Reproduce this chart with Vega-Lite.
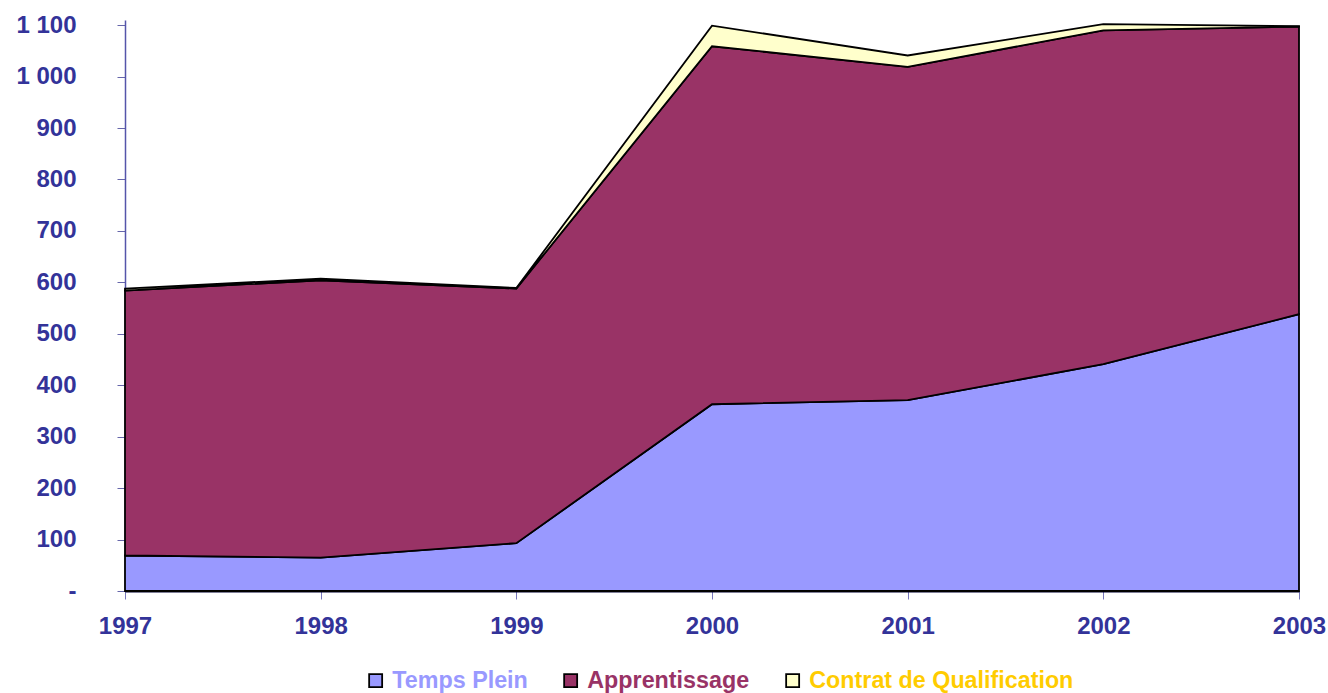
{
  "$schema": "https://vega.github.io/schema/vega-lite/v6.json",
  "autosize": {"type": "none"},
  "padding": {"left": 125, "top": 20, "right": 29, "bottom": 102},
  "width": 1174,
  "height": 571,
  "background": "white",
  "data": {
    "values": [
      {"annee": 1997, "type": "Temps Plein", "rang": 1, "effectif": 69},
      {"annee": 1998, "type": "Temps Plein", "rang": 1, "effectif": 65},
      {"annee": 1999, "type": "Temps Plein", "rang": 1, "effectif": 93},
      {"annee": 2000, "type": "Temps Plein", "rang": 1, "effectif": 363},
      {"annee": 2001, "type": "Temps Plein", "rang": 1, "effectif": 371},
      {"annee": 2002, "type": "Temps Plein", "rang": 1, "effectif": 441},
      {"annee": 2003, "type": "Temps Plein", "rang": 1, "effectif": 538},
      {"annee": 1997, "type": "Apprentissage", "rang": 2, "effectif": 515},
      {"annee": 1998, "type": "Apprentissage", "rang": 2, "effectif": 539},
      {"annee": 1999, "type": "Apprentissage", "rang": 2, "effectif": 495},
      {"annee": 2000, "type": "Apprentissage", "rang": 2, "effectif": 696},
      {"annee": 2001, "type": "Apprentissage", "rang": 2, "effectif": 648},
      {"annee": 2002, "type": "Apprentissage", "rang": 2, "effectif": 649},
      {"annee": 2003, "type": "Apprentissage", "rang": 2, "effectif": 559},
      {"annee": 1997, "type": "Contrat de Qualification", "rang": 3, "effectif": 4},
      {"annee": 1998, "type": "Contrat de Qualification", "rang": 3, "effectif": 3},
      {"annee": 1999, "type": "Contrat de Qualification", "rang": 3, "effectif": 1},
      {"annee": 2000, "type": "Contrat de Qualification", "rang": 3, "effectif": 40},
      {"annee": 2001, "type": "Contrat de Qualification", "rang": 3, "effectif": 22},
      {"annee": 2002, "type": "Contrat de Qualification", "rang": 3, "effectif": 12},
      {"annee": 2003, "type": "Contrat de Qualification", "rang": 3, "effectif": 1}
    ]
  },
  "mark": {"type": "area", "stroke": "black", "strokeWidth": 1.8, "opacity": 1, "fillOpacity": 1, "strokeJoin": "miter"},
  "encoding": {
    "x": {
      "field": "annee", "type": "quantitative",
      "scale": {"domain": [1997, 2003], "nice": false, "zero": false},
      "axis": {
        "title": null, "values": [1997, 1998, 1999, 2000, 2001, 2002, 2003],
        "format": "d", "grid": false,
        "labelFont": "Liberation Sans", "labelFontWeight": "bold", "labelFontSize": 24,
        "labelColor": "#333399", "labelPadding": 15,
        "tickColor": "#7777BB", "tickSize": 8, "tickWidth": 1,
        "domainColor": "#000033", "domainWidth": 2,
        "labelFlush": false, "labelOverlap": false
      }
    },
    "y": {
      "field": "effectif", "type": "quantitative", "stack": "zero",
      "scale": {"domain": [0, 1110], "nice": false},
      "axis": {
        "title": null, "values": [0, 100, 200, 300, 400, 500, 600, 700, 800, 900, 1000, 1100],
        "labelExpr": "datum.value == 0 ? '-' : replace(format(datum.value, ','), ',', ' ')",
        "grid": false,
        "labelFont": "Liberation Sans", "labelFontWeight": "bold", "labelFontSize": 24,
        "labelColor": "#333399", "labelPadding": 41,
        "tickColor": "#6666AA", "tickSize": 8, "tickWidth": 1,
        "domainColor": "#5555AA", "domainWidth": 1.5
      }
    },
    "color": {
      "field": "type", "type": "nominal",
      "scale": {
        "domain": ["Temps Plein", "Apprentissage", "Contrat de Qualification"],
        "range": ["#9999FF", "#993366", "#FFFFCC"]
      },
      "legend": {
        "title": null, "orient": "none", "legendX": 239, "legendY": 649,
        "direction": "horizontal",
        "symbolType": "square", "symbolSize": 169, "symbolStrokeColor": "black",
        "symbolStrokeWidth": 1.8, "symbolOpacity": 1,
        "labelFont": "Liberation Sans", "labelFontWeight": "bold", "labelFontSize": 23.3,
        "labelOffset": 5, "columnPadding": 31, "labelLimit": 400,
        "encode": {
          "labels": {
            "update": {
              "fill": {"signal": "datum.label == 'Temps Plein' ? '#9999FF' : datum.label == 'Apprentissage' ? '#993366' : '#FFCC00'"}
            }
          }
        }
      }
    },
    "order": {"field": "rang", "type": "quantitative"}
  },
  "config": {"view": {"stroke": null}}
}
